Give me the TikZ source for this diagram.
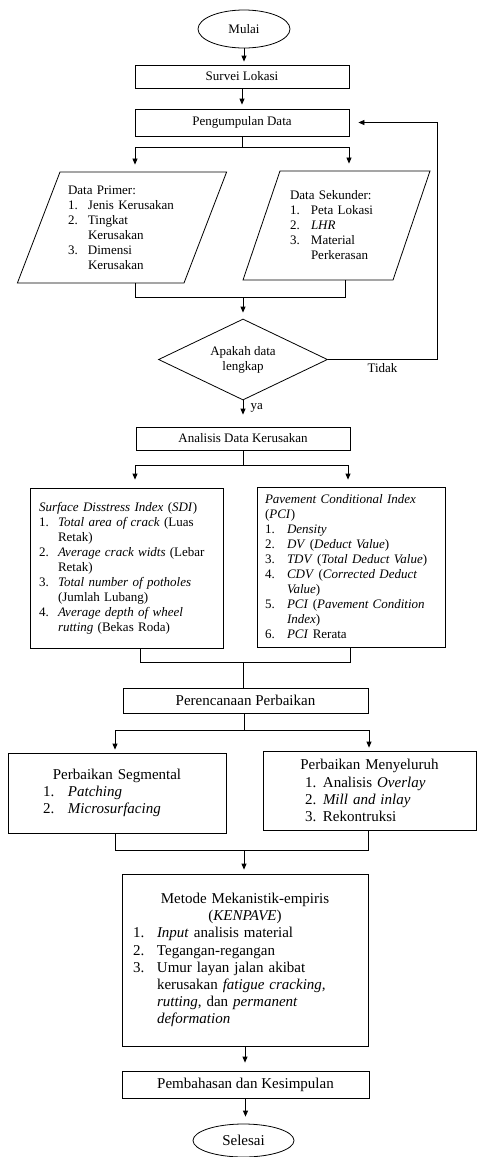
\documentclass[tikz,border=0pt]{standalone}
\usepackage{fontspec}
\setmainfont{Liberation Serif}
\usetikzlibrary{shapes.geometric,arrows.meta}
\newcommand{\fsa}{\fontsize{13}{15}\selectfont}
\newcommand{\fsb}{\fontsize{15}{17.2}\selectfont}
\newlength\itmind
\newlength\itmmar
\newcommand{\itm}[2]{\par\leftskip=\itmmar\rightskip=0pt plus 1fil\parfillskip=0pt plus 1fil\hangindent=\itmind\hangafter=1\noindent\makebox[\itmind][l]{#1}#2}
\tikzset{
	proses/.style={draw, rectangle, inner sep=0pt, align=center},
	terminal/.style={draw, ellipse, inner sep=0pt},
	data/.style={draw, trapezium, trapezium left angle=#1, trapezium right angle=180-#1},
	teks/.style={inner sep=0pt, align=left},
	keputusan/.style={draw, diamond, aspect=2.1, inner sep=1pt, align=center},
	daftar/.style={draw, rectangle, align=left}
}
\begin{document}
\begin{tikzpicture}[x=1pt, y=-1pt, line width=0.8pt, font=\fsa, >={Triangle[length=6pt,width=5pt]}]
	\useasboundingbox (0,0) rectangle (477,1157);
	\node[terminal, minimum width=92, minimum height=38] (mulai) at (244,29) {Mulai};
	\node[proses, minimum width=214, minimum height=23] (survei) at (242,76.5) {Survei Lokasi};
	\node[proses, minimum width=214, minimum height=27] (kumpul) at (242,122.5) {Pengumpulan Data};
	\node[data=69, inner xsep=62, inner ysep=55.5] (primer) at (122,227.5) {};
	\node[teks, text width=112, xshift=2] (primerteks) at (primer.center) {\itmind=20pt\itmmar=0pt Data Primer:\itm{1.}{Jenis Kerusakan}\itm{2.}{Tingkat\newline Kerusakan}\itm{3.}{Dimensi\newline Kerusakan}\par};
	\node[data=71.25, inner xsep=56.5, inner ysep=54.5] (sekunder) at (336.5,225.5) {};
	\node[teks, text width=85, xshift=-4] (sekunderteks) at (sekunder.center) {\itmind=21pt\itmmar=0pt Data Sekunder:\itm{1.}{Peta Lokasi}\itm{2.}{\textit{LHR}}\itm{3.}{Material\newline Perkerasan}\par};
	\node[keputusan, minimum width=169, minimum height=81] (cek) at (243,359.5) {Apakah data\\lengkap};
	\node[proses, minimum width=214, minimum height=23] (analisis) at (243,438.5) {Analisis Data Kerusakan};
	\node[daftar, minimum width=193, minimum height=160, text width=175] (sdi) at (126.5,568) {\itmind=19pt\itmmar=0pt \textit{Surface Disstress Index} (\textit{SDI})\itm{1.}{\textit{Total area of crack} (Luas\newline Retak)}\itm{2.}{\textit{Average crack widts} (Lebar\newline Retak)}\itm{3.}{\textit{Total number of potholes}\newline (Jumlah Lubang)}\itm{4.}{\textit{Average depth of wheel\newline rutting} (Bekas Roda)}\par\vspace{15pt}};
	\node[daftar, minimum width=188, minimum height=160, text width=172] (pci) at (351,567) {\itmind=22pt\itmmar=0pt \textit{Pavement Conditional Index}\newline(\textit{PCI})\itm{1.}{\textit{Density}}\itm{2.}{\textit{DV} (\textit{Deduct Value})}\itm{3.}{\textit{TDV} (\textit{Total Deduct Value})}\itm{4.}{\textit{CDV} (\textit{Corrected Deduct\newline Value})}\itm{5.}{\textit{PCI} (\textit{Pavement Condition\newline Index})}\itm{6.}{\textit{PCI} Rerata}\par};
	\node[proses, font=\fsb, minimum width=245, minimum height=25] (rencana) at (245.5,700.5) {Perencanaan Perbaikan};
	\node[daftar, font=\fsb, minimum width=218, minimum height=80, text width=200] (segmen) at (117,793) {{\centering Perbaikan Segmental\par}\itmind=25pt\itmmar=26pt\itm{1.}{\textit{Patching}}\itm{2.}{\textit{Microsurfacing}}\par};
	\node[daftar, font=\fsb, minimum width=213, minimum height=79, text width=195] (menyeluruh) at (369.5,790.5) {{\centering Perbaikan Menyeluruh\par}\itmind=18pt\itmmar=33pt\itm{1.}{Analisis \textit{Overlay}}\itm{2.}{\textit{Mill and inlay}}\itm{3.}{Rekontruksi}\par};
	\node[daftar, font=\fsb, minimum width=246, minimum height=172, text width=228] (metode) at (245,960) {{\centering Metode Mekanistik-empiris\\(\textit{KENPAVE})\par}\itmind=24pt\itmmar=2pt\itm{1.}{\textit{Input} analisis material}\itm{2.}{Tegangan-regangan}\itm{3.}{Umur layan jalan akibat\newline kerusakan \textit{fatigue cracking,}\newline \textit{rutting}, dan \textit{permanent}\newline \textit{deformation}}\par};
	\node[proses, font=\fsb, minimum width=247, minimum height=27] (bahas) at (245.5,1084.5) {Pembahasan dan Kesimpulan};
	\node[terminal, font=\fsb, minimum width=101, minimum height=33] (selesai) at (243.5,1140.5) {Selesai};
	\path (242,147) coordinate (k0)
		(135,147) coordinate (k1)
		(349,147) coordinate (k2)
		(243,297) coordinate (g0)
		(135,297) coordinate (g1)
		(345,297) coordinate (g2)
		(437,122.5) coordinate (balik)
		(243,465) coordinate (a0)
		(135,465) coordinate (a1)
		(348,465) coordinate (a2)
		(243,662) coordinate (b0)
		(140,662) coordinate (b1)
		(350,662) coordinate (b2)
		(244,730) coordinate (c0)
		(115,730) coordinate (c1)
		(369,730) coordinate (c2)
		(244,850) coordinate (d0)
		(115,850) coordinate (d1)
		(368,850) coordinate (d2);
	\draw[->, shorten >=3pt] (mulai.south) -- (mulai.south |- survei.north);
	\draw[->, shorten >=4pt] (survei.south) -- (kumpul.north);
	\draw (kumpul.south) -- (k0);
	\draw (k1) -- (k2);
	\draw[->, shorten >=7pt] (k1) -- (k1 |- primer.north);
	\draw[->, shorten >=7pt] (k2) -- (k2 |- sekunder.north);
	\draw (g1 |- primer.south) -- (g1) -- (g2) -- (g2 |- sekunder.south);
	\draw[->, shorten >=6pt] (g0) -- (cek.north);
	\draw[->, shorten >=9pt] (cek.east) -| node[pos=0.25, below, name=tidak] {Tidak} (balik) -- (kumpul.east);
	\draw[->, shorten >=12pt] (cek.south) -- node[pos=0.3, right=4pt, name=ya] {ya} (analisis.north);
	\draw (analisis.south) -- (a0);
	\draw (a1) -- (a2);
	\draw[->, shorten >=8pt] (a1) -- (a1 |- sdi.north);
	\draw[->, shorten >=7pt] (a2) -- (a2 |- pci.north);
	\draw (b1 |- sdi.south) -- (b1) -- (b2) -- (b2 |- pci.south);
	\draw (b0) -- (b0 |- rencana.north);
	\draw (c0 |- rencana.south) -- (c0);
	\draw (c1) -- (c2);
	\draw[->, shorten >=3pt] (c1) -- (c1 |- segmen.north);
	\draw[->, shorten >=3pt] (c2) -- (c2 |- menyeluruh.north);
	\draw (d1 |- segmen.south) -- (d1) -- (d2) -- (d2 |- menyeluruh.south);
	\draw[->, shorten >=4pt] (d0) -- (d0 |- metode.north);
	\draw[->, shorten >=8pt] (metode.south) -- (metode.south |- bahas.north);
	\draw[->, shorten >=7pt] (bahas.south) -- (bahas.south |- selesai.north);
\end{tikzpicture}
\end{document}
